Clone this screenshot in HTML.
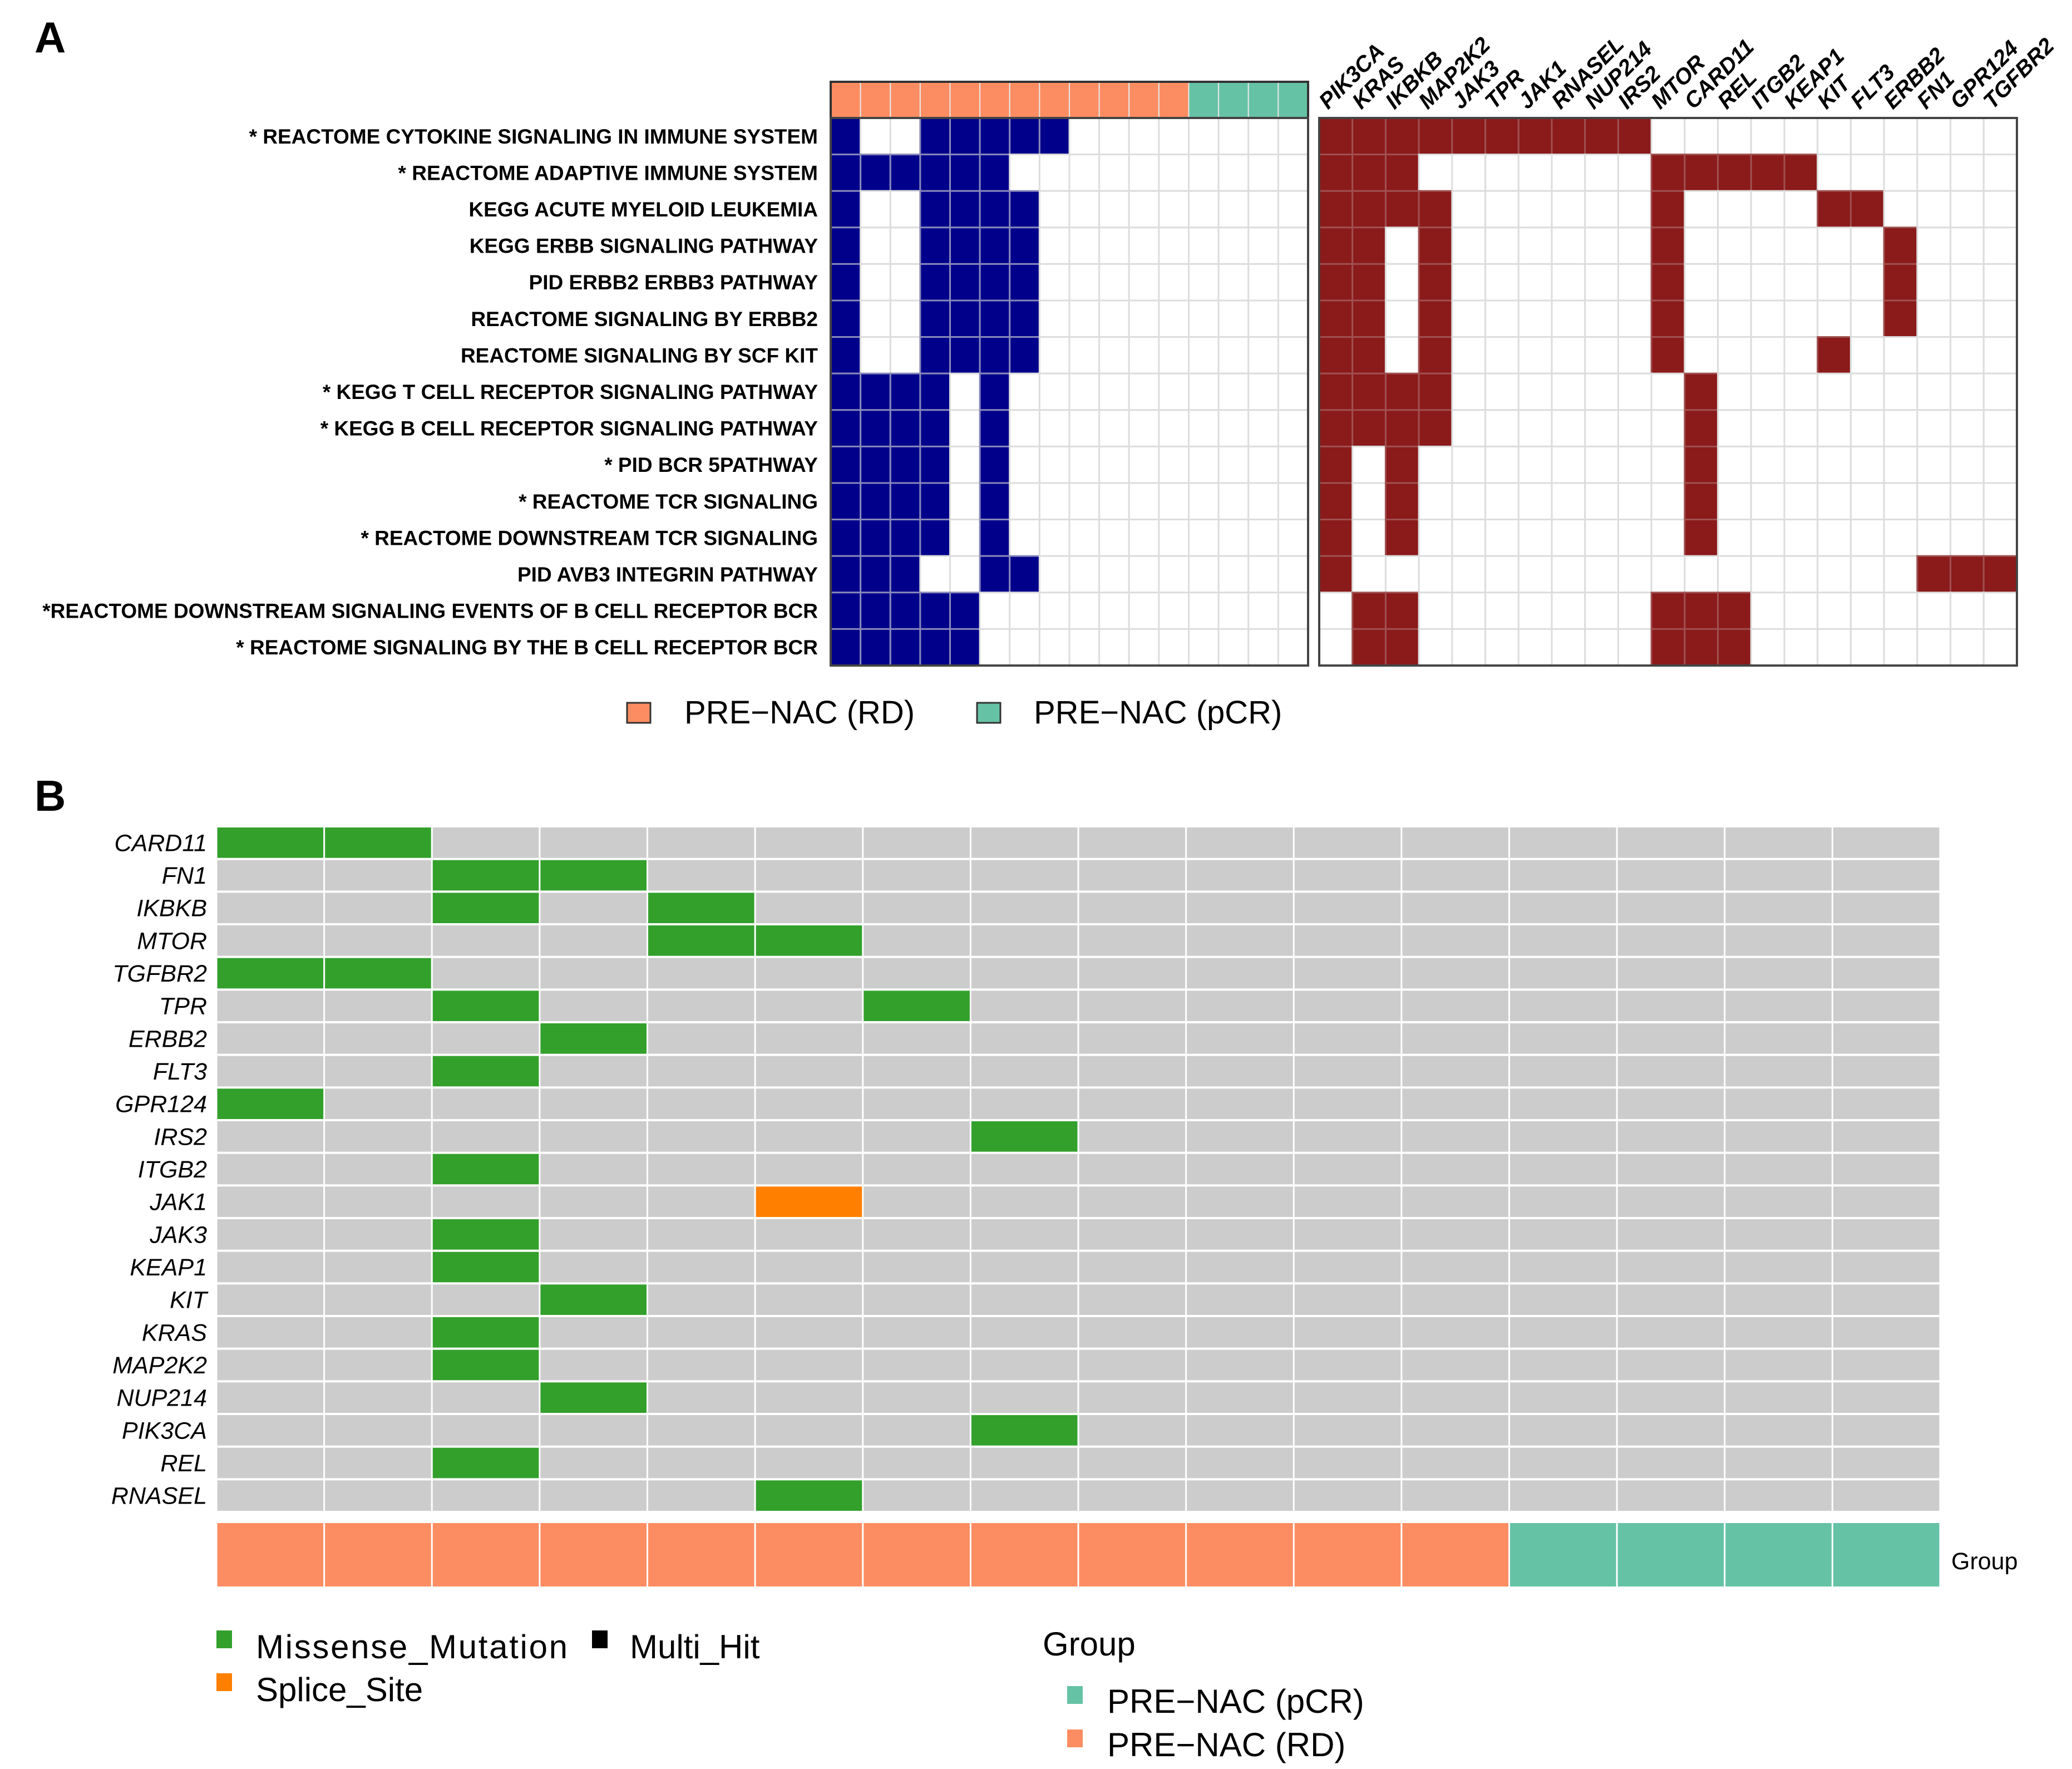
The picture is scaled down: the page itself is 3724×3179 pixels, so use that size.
<!DOCTYPE html>
<html><head><meta charset="utf-8"><style>
html,body{margin:0;padding:0;background:#fff;}
svg{display:block;font-family:"Liberation Sans",sans-serif;}
</style></head><body>
<svg id="fig" width="3724" height="3179" viewBox="0 0 3724 3179" xmlns="http://www.w3.org/2000/svg">
<text x="62" y="94" font-size="78" font-weight="bold">A</text>
<text x="62" y="1457" font-size="78" font-weight="bold">B</text>
<g id="A"></g><g id="B"></g>
</svg>
<script>
const pathways=["* REACTOME CYTOKINE SIGNALING IN IMMUNE SYSTEM","* REACTOME ADAPTIVE IMMUNE SYSTEM","KEGG ACUTE MYELOID LEUKEMIA","KEGG ERBB SIGNALING PATHWAY","PID ERBB2 ERBB3 PATHWAY","REACTOME SIGNALING BY ERBB2","REACTOME SIGNALING BY SCF KIT","* KEGG T CELL RECEPTOR SIGNALING PATHWAY","* KEGG B CELL RECEPTOR SIGNALING PATHWAY","* PID BCR 5PATHWAY","* REACTOME TCR SIGNALING","* REACTOME DOWNSTREAM TCR SIGNALING","PID AVB3 INTEGRIN PATHWAY","*REACTOME DOWNSTREAM SIGNALING EVENTS OF B CELL RECEPTOR BCR","* REACTOME SIGNALING BY THE B CELL RECEPTOR BCR"];
const sampleGroupsA=["RD","RD","RD","RD","RD","RD","RD","RD","RD","RD","RD","RD","pCR","pCR","pCR","pCR"];
const blueHits=[[1,4,5,6,7,8],[1,2,3,4,5,6],[1,4,5,6,7],[1,4,5,6,7],[1,4,5,6,7],[1,4,5,6,7],[1,4,5,6,7],[1,2,3,4,6],[1,2,3,4,6],[1,2,3,4,6],[1,2,3,4,6],[1,2,3,4,6],[1,2,3,6,7],[1,2,3,4,5],[1,2,3,4,5]];
const genesA=["PIK3CA","KRAS","IKBKB","MAP2K2","JAK3","TPR","JAK1","RNASEL","NUP214","IRS2","MTOR","CARD11","REL","ITGB2","KEAP1","KIT","FLT3","ERBB2","FN1","GPR124","TGFBR2"];
const redHits=[[1,2,3,4,5,6,7,8,9,10],[1,2,3,11,12,13,14,15],[1,2,3,4,11,16,17],[1,2,4,11,18],[1,2,4,11,18],[1,2,4,11,18],[1,2,4,11,16],[1,2,3,4,12],[1,2,3,4,12],[1,3,12],[1,3,12],[1,3,12],[1,19,20,21],[2,3,11,12,13],[2,3,11,12,13]];
const genesB=["CARD11","FN1","IKBKB","MTOR","TGFBR2","TPR","ERBB2","FLT3","GPR124","IRS2","ITGB2","JAK1","JAK3","KEAP1","KIT","KRAS","MAP2K2","NUP214","PIK3CA","REL","RNASEL"];
const missense=[[1,2],[3,4],[3,5],[5,6],[1,2],[3,7],[4],[3],[1],[8],[3],[],[3],[3],[4],[3],[3],[4],[8],[3],[6]];
const splice=[[],[],[],[],[],[],[],[],[],[],[],[6],[],[],[],[],[],[],[],[],[]];
const sampleGroupsB=["RD","RD","RD","RD","RD","RD","RD","RD","RD","RD","RD","RD","pCR","pCR","pCR","pCR"];

const NS="http://www.w3.org/2000/svg";
const C={RD:"#fc8d62",pCR:"#66c2a5"};
function mk(p,t,a){const e=document.createElementNS(NS,t);for(const k in a)e.setAttribute(k,a[k]);p.appendChild(e);return e;}
const A=document.getElementById('A'),B=document.getElementById('B');

const Lx0=1493,Lx1=2351,Ay0=212,Ay1=1196,Tb0=147;
const nr=pathways.length, lcw=(Lx1-Lx0)/sampleGroupsA.length, rh=(Ay1-Ay0)/nr;
const lx=i=>Lx0+i*lcw, ry=r=>Ay0+r*rh;
sampleGroupsA.forEach((g,i)=>{const e=mk(A,'rect',{x:lx(i),y:Tb0,width:lcw,height:Ay0-Tb0,fill:C[g],stroke:"#e8e8e8","stroke-width":2});

});
mk(A,'rect',{x:Lx0,y:Tb0,width:Lx1-Lx0,height:Ay0-Tb0,fill:"none",stroke:"#333","stroke-width":4});
pathways.forEach((p,r)=>{
 for(let i=0;i<sampleGroupsA.length;i++){const hit=blueHits[r].includes(i+1);
  const e=mk(A,'rect',{x:lx(i),y:ry(r),width:lcw,height:rh,fill:hit?"#00008b":"#fff",stroke:hit?"#8888bb":"#dddddd","stroke-width":3});
  
  }
 const t=mk(A,'text',{x:1470,y:ry(r)+rh/2+13,"font-size":37,"font-weight":"bold","text-anchor":"end"});
 t.textContent=p;
 
 
});
mk(A,'rect',{x:Lx0,y:Ay0,width:Lx1-Lx0,height:Ay1-Ay0,fill:"none",stroke:"#444","stroke-width":4});

const Rx0=2371,Rx1=3625, rcw=(Rx1-Rx0)/genesA.length, rx=i=>Rx0+i*rcw;
pathways.forEach((p,r)=>{for(let i=0;i<genesA.length;i++){const hit=redHits[r].includes(i+1);
 const e=mk(A,'rect',{x:rx(i),y:ry(r),width:rcw,height:rh,fill:hit?"#8b1a1a":"#fff",stroke:hit?"#a05050":"#dddddd","stroke-width":3});
 
 }});
mk(A,'rect',{x:Rx0,y:Ay0,width:Rx1-Rx0,height:Ay1-Ay0,fill:"none",stroke:"#444","stroke-width":4});
genesA.forEach((g,i)=>{const x=rx(i)+rcw/2-14,y=198;
 const t=mk(A,'text',{x:x,y:y,"font-size":40,"font-weight":"bold","font-style":"italic",transform:`rotate(-45 ${x} ${y})`});
 t.textContent=g;
 
 });
[["RD",1127,"PRE\u2212NAC (RD)",1230],["pCR",1756,"PRE\u2212NAC (pCR)",1858]].forEach(l=>{
 const s=mk(A,'rect',{x:l[1],y:1263,width:42,height:36,fill:C[l[0]],stroke:"#333","stroke-width":3});
 
 
 const t=mk(A,'text',{x:l[3],y:1300,"font-size":58});t.textContent=l[2];
 
 });

const Bx0=389,Bx1=3487,By0=1485,By1=2717;
const bcw=(Bx1-Bx0)/sampleGroupsB.length, brh=(By1-By0)/genesB.length;
const bx=i=>Bx0+i*bcw, by=r=>By0+r*brh;
genesB.forEach((g,r)=>{
 for(let i=0;i<sampleGroupsB.length;i++){
  let f="#cccccc";
  if(missense[r].includes(i+1))f="#33a02c";
  if(splice[r].includes(i+1))f="#ff7f00";
  const e=mk(B,'rect',{x:bx(i)+1.5,y:by(r)+2,width:bcw-3,height:brh-4,fill:f});
  
  }
 const t=mk(B,'text',{x:372,y:by(r)+brh/2+15,"font-size":43,"font-style":"italic","text-anchor":"end"});
 t.textContent=g;
 
 
});
sampleGroupsB.forEach((g,i)=>{const e=mk(B,'rect',{x:bx(i)+1.5,y:2737,width:bcw-3,height:114,fill:C[g]});
 
 });
const gl=mk(B,'text',{x:3507,y:2820,"font-size":43});gl.textContent="Group";


[[389,2930,"#33a02c","Missense_Mutation",460,2980,560],[1064,2930,"#000","Multi_Hit",1132,2980,0],[389,3007,"#ff7f00","Splice_Site",460,3057,0],[1918,3030,"#66c2a5","PRE\u2212NAC (pCR)",1990,3078,0],[1918,3108,"#fc8d62","PRE\u2212NAC (RD)",1990,3156,0]].forEach(l=>{
 const s=mk(B,'rect',{x:l[0],y:l[1],width:28,height:32,fill:l[2]});
 
 
 const a={x:l[4],y:l[5],"font-size":60};if(l[6])a.textLength=l[6];
 const t=mk(B,'text',a);t.textContent=l[3];
 
 });
const gt=mk(B,'text',{x:1874,y:2975,"font-size":60});gt.textContent="Group";


</script>
</body></html>
